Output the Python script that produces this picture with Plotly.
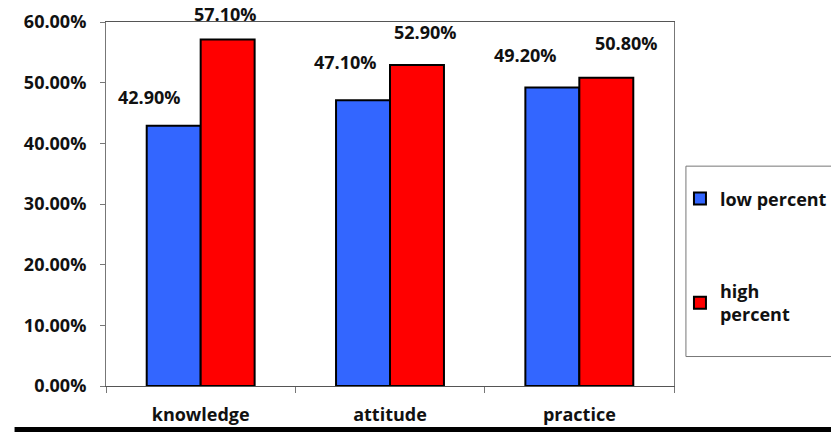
import plotly.graph_objects as go

categories = ["knowledge", "attitude", "practice"]
low_percent = [0.429, 0.471, 0.492]
high_percent = [0.571, 0.529, 0.508]
tick_values = [0, 0.1, 0.2, 0.3, 0.4, 0.5, 0.6]
tick_labels = ["0.00%", "10.00%", "20.00%", "30.00%", "40.00%", "50.00%", "60.00%"]

FONT = "Open Sans"
fs = 18
TXT = "#111"

# label offsets (pixels) relative to category centre / bar top
low_offsets = [(-51, 29), (-45, 38), (-54, 33)]
high_offsets = [(25, 26), (35, 33), (47, 35)]

def bfont(size=fs):
    return dict(family=FONT, size=size, color=TXT, weight="bold")

fig = go.Figure()
fig.add_trace(go.Bar(
    x=categories, y=low_percent, name="low percent",
    marker=dict(color="#3366FF", line=dict(color="black", width=2)),
    legendgroup="a",
))
fig.add_trace(go.Bar(
    x=categories, y=high_percent, name="high<br>percent",
    marker=dict(color="#FF0000", line=dict(color="black", width=2)),
    legendgroup="b",
))

ann = []
for vals, offs in ((low_percent, low_offsets), (high_percent, high_offsets)):
    for cat, v, (dx, dy) in zip(categories, vals, offs):
        ann.append(dict(x=cat, y=v, xref="x", yref="y", text=f"{v*100:.2f}%", showarrow=False,
                        xshift=dx, yshift=dy, font=bfont(),
                        xanchor="center", yanchor="middle"))

fig.update_layout(
    width=831, height=432,
    margin=dict(l=106, r=157, t=22, b=46, autoexpand=False),
    plot_bgcolor="white", paper_bgcolor="white",
    barmode="group", bargap=0.43, bargroupgap=0,
    font=bfont(),
    showlegend=True,
    legend=dict(x=1.0105, y=0.565, xanchor="left", yanchor="top",
                borderwidth=0, bgcolor="rgba(0,0,0,0)",
                tracegroupgap=66, font=bfont(18), itemwidth=30),
    annotations=ann,
    yaxis=dict(range=[0, 0.6], tickvals=tick_values, ticktext=tick_labels,
               showgrid=False, showline=True, linecolor="#777", linewidth=1,
               mirror=True, ticks="outside", ticklen=5, tickcolor="#777",
               ticklabelstandoff=10,
               zeroline=False, tickfont=bfont()),
    xaxis=dict(showgrid=False, showline=True, linecolor="#555", linewidth=1,
               mirror=True, ticks="outside", ticklen=6, tickcolor="#777",
               tickson="boundaries", ticklabelstandoff=12, tickfont=bfont()),
    shapes=[
        dict(type="rect", xref="paper", yref="paper",
             x0=-0.161, x1=1.3, y0=-0.1264, y1=-0.1126,
             fillcolor="black", line=dict(width=0)),
        dict(type="rect", xref="paper", yref="paper",
             x0=1.021, x1=1.3, y0=0.081, y1=0.604,
             fillcolor="rgba(0,0,0,0)", line=dict(color="#777", width=1)),
    ],
)

fig.write_html("out.html")
